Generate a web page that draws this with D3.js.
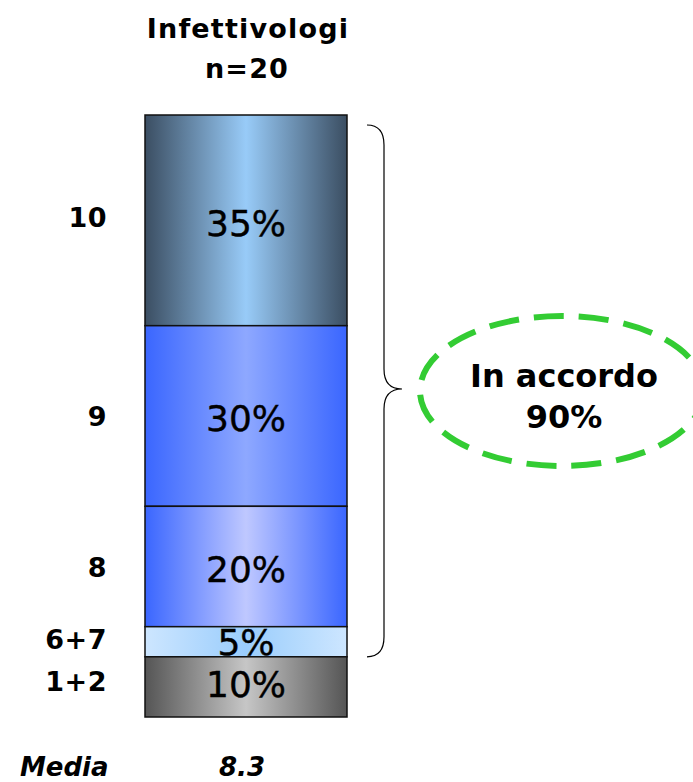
<!DOCTYPE html>
<html><head><meta charset="utf-8">
<script src="https://cdn.jsdelivr.net/npm/d3@7"></script>
<style>body{margin:0;background:#fff}svg{display:block}</style>
</head><body>
<script>
const categories = ["10", "9", "8", "6+7", "1+2"];
const values = [35, 30, 20, 5, 10];
const title = ["Infettivologi", "n=20"];
const mediaLabel = "Media";
const mediaValue = "8.3";
const agreeLabel = ["In accordo", "90%"];
const agreeSpan = [0, 4]; // indices of categories covered by brace

const W = 693, H = 782;
const svg = d3.select("body").append("svg").attr("width", W).attr("height", H);
const font = "'DejaVu Sans', Verdana, sans-serif";

const y = d3.scaleLinear().domain([0, 100]).range([115, 717]);
const x = d3.scaleBand().domain(["Infettivologi"]).range([145, 347]).padding(0);

const grads = [
  ["#3b4e62", "#98cbf8", "#3b4e62"],
  ["#3a66ff", "#8ea8ff", "#3a66ff"],
  ["#3a66ff", "#bfc8ff", "#3a66ff"],
  ["#cde6ff", "#9acdfc", "#cde6ff"],
  ["#555555", "#c6c6c6", "#555555"]
];
const defs = svg.append("defs");
grads.forEach((g, i) => {
  const lg = defs.append("linearGradient").attr("id", "g" + i).attr("x1", 0).attr("x2", 1).attr("y1", 0).attr("y2", 0);
  lg.append("stop").attr("offset", "0%").attr("stop-color", g[0]);
  lg.append("stop").attr("offset", "50%").attr("stop-color", g[1]);
  lg.append("stop").attr("offset", "100%").attr("stop-color", g[2]);
});

let cum = 0;
const segs = values.map((v, i) => { const s = { cat: categories[i], v, y0: cum, y1: cum + v, i }; cum += v; return s; });

svg.selectAll("rect.seg").data(segs).enter().append("rect")
  .attr("x", x("Infettivologi")).attr("width", x.bandwidth())
  .attr("y", d => y(d.y0)).attr("height", d => y(d.y1) - y(d.y0))
  .attr("fill", d => "url(#g" + d.i + ")")
  .attr("stroke", "#111").attr("stroke-width", 1.5);

const pctDy = [16, 15, 15, 13, 10];
svg.selectAll("text.pct").data(segs).enter().append("text")
  .attr("x", x("Infettivologi") + x.bandwidth() / 2)
  .attr("y", d => (y(d.y0) + y(d.y1)) / 2 + pctDy[d.i])
  .attr("text-anchor", "middle").attr("font-family", font).attr("font-size", 36)
  .attr("fill", "#000").attr("stroke", "#000").attr("stroke-width", 0.4).text(d => d.v + "%");

const labDy = [7, 10, 10, 7, 4];
svg.selectAll("text.cat").data(segs).enter().append("text")
  .attr("x", 107).attr("y", d => (y(d.y0) + y(d.y1)) / 2 + labDy[d.i])
  .attr("text-anchor", "end").attr("font-family", font).attr("font-weight", "bold").attr("font-size", 27)
  .attr("letter-spacing", 0.5).text(d => d.cat);

// title
svg.append("text").attr("x", 248).attr("y", 38).attr("text-anchor", "middle")
  .attr("font-family", font).attr("font-weight", "bold").attr("font-size", 27).attr("letter-spacing", 1.2).text(title[0]);
svg.append("text").attr("x", 247).attr("y", 78).attr("text-anchor", "middle")
  .attr("font-family", font).attr("font-weight", "bold").attr("font-size", 27).attr("letter-spacing", 1.2).text(title[1]);

// media
svg.append("text").attr("x", 20).attr("y", 776).attr("font-family", font).attr("font-weight", "bold")
  .attr("font-style", "italic").attr("font-size", 26).text(mediaLabel);
svg.append("text").attr("x", 242).attr("y", 776).attr("text-anchor", "middle").attr("font-family", font).attr("font-weight", "bold")
  .attr("font-style", "italic").attr("font-size", 26).text(mediaValue);

// brace
const bTop = y(segs[agreeSpan[0]].y0) + 10, bBot = y(segs[agreeSpan[1] - 1].y1);
const bx = 367, vx = 384, tipx = 402, mid = 389;
const p = d3.path();
p.moveTo(bx, bTop);
p.quadraticCurveTo(vx, bTop, vx, bTop + 20);
p.lineTo(vx, mid - 20);
p.quadraticCurveTo(vx, mid, tipx, mid);
p.quadraticCurveTo(vx, mid, vx, mid + 20);
p.lineTo(vx, bBot - 20);
p.quadraticCurveTo(vx, bBot, bx, bBot);
svg.append("path").attr("d", p.toString()).attr("fill", "none").attr("stroke", "#000").attr("stroke-width", 1.2);

// ellipse
svg.append("ellipse").attr("cx", 562).attr("cy", 391).attr("rx", 142).attr("ry", 75)
  .attr("fill", "none").attr("stroke", "#33cc33").attr("stroke-width", 6).attr("stroke-dasharray", "30 15");
svg.append("text").attr("x", 564).attr("y", 387).attr("text-anchor", "middle").attr("font-family", font)
  .attr("font-weight", "bold").attr("font-size", 32).text(agreeLabel[0]);
svg.append("text").attr("x", 564).attr("y", 428).attr("text-anchor", "middle").attr("font-family", font)
  .attr("font-weight", "bold").attr("font-size", 32).text(agreeLabel[1]);
</script>
</body></html>
